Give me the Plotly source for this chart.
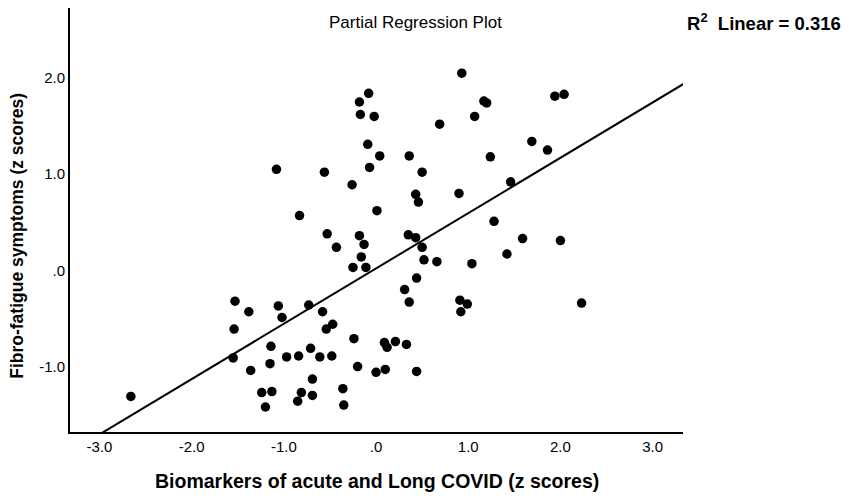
import plotly.graph_objects as go

# partial regression residuals (z scores)
biomarkers_z = [
    -0.08, -0.18, -0.17, -0.02, -0.09, 0.04, -0.07, -1.08, -0.56, -0.26,
    0.01, -0.83, 0.93, 1.17, 1.20, 1.07, 0.69, 1.94, 2.04, 0.36,
    0.50, 0.43, 0.46, 0.90, 1.24, 1.69, 1.86, 1.46, 1.28, -0.53,
    -0.43, -0.18, -0.13, -0.16, -0.25, -0.11, -1.53, -1.38, -1.06, -1.02,
    -0.73, -0.58, -0.47, -0.54, -1.54, -1.55, -1.14, -0.97, -0.84, -0.71,
    -0.61, -0.48, -0.24, -1.15, -1.36, -0.20, 0.09, 0.12, 0.00, 0.10,
    -0.69, -1.24, -1.13, -1.20, -0.81, -0.85, -0.69, -0.36, -0.35, -2.66,
    0.35, 0.43, 0.50, 0.52, 0.66, 0.44, 0.31, 0.36, 1.04, 1.42,
    1.59, 2.00, 2.23, 0.91, 0.99, 0.92, 0.21, 0.33, 0.44,
]
fibro_fatigue_z = [
    1.84, 1.75, 1.62, 1.60, 1.31, 1.19, 1.07, 1.05, 1.02, 0.89,
    0.62, 0.57, 2.05, 1.76, 1.74, 1.60, 1.52, 1.81, 1.83, 1.19,
    1.02, 0.79, 0.71, 0.80, 1.18, 1.34, 1.25, 0.92, 0.51, 0.38,
    0.24, 0.36, 0.27, 0.14, 0.03, 0.03, -0.32, -0.43, -0.37, -0.49,
    -0.36, -0.43, -0.56, -0.61, -0.61, -0.91, -0.79, -0.90, -0.89, -0.81,
    -0.90, -0.89, -0.71, -0.97, -1.04, -1.00, -0.75, -0.80, -1.06, -1.03,
    -1.13, -1.27, -1.26, -1.42, -1.27, -1.36, -1.30, -1.23, -1.40, -1.31,
    0.37, 0.34, 0.24, 0.11, 0.09, -0.08, -0.20, -0.33, 0.07, 0.17,
    0.33, 0.31, -0.34, -0.31, -0.35, -0.43, -0.74, -0.77, -1.05,
]

fit_slope = 0.575
fit_intercept = 0.02
r2_linear = 0.316

x_ticks = [-3, -2, -1, 0, 1, 2, 3]
x_tick_text = ["-3.0", "-2.0", "-1.0", ".0", "1.0", "2.0", "3.0"]
y_ticks = [-1, 0, 1, 2]
y_tick_text = ["-1.0", ".0", "1.0", "2.0"]

x_range = [-3.32, 3.33]
y_range = [-1.68, 2.727]

font_family = "Liberation Sans, Arial, sans-serif"

fig = go.Figure()

fit_x = [-3.5, 3.5]
fit_y = [fit_slope * v + fit_intercept for v in fit_x]
fig.add_trace(go.Scatter(x=fit_x, y=fit_y, mode="lines",
                         line=dict(color="black", width=2), hoverinfo="skip"))

fig.add_trace(go.Scatter(x=biomarkers_z, y=fibro_fatigue_z, mode="markers",
                         marker=dict(color="black", size=9.5)))

# the page body adds an 8px margin, so the figure is 8px smaller each way
fig.update_layout(
    width=842, height=491,
    margin=dict(l=62, r=167, t=0, b=67),
    paper_bgcolor="white", plot_bgcolor="white",
    showlegend=False,
    font=dict(family=font_family, color="black", size=15),
)

fig.update_xaxes(range=x_range, tickvals=x_ticks, ticktext=x_tick_text,
                 showgrid=False, zeroline=False, showline=True,
                 linecolor="black", linewidth=2, ticks="",
                 tickfont=dict(size=15, color="black"))
fig.update_yaxes(range=y_range, tickvals=y_ticks, ticktext=y_tick_text,
                 showgrid=False, zeroline=False, showline=True,
                 linecolor="black", linewidth=2, ticks="",
                 tickfont=dict(size=15, color="black"))

fig.add_annotation(text="Partial Regression Plot", xref="paper", yref="paper",
                   x=0.564, y=0.965, xanchor="center", yanchor="middle",
                   showarrow=False, font=dict(size=17, color="black"))
fig.add_annotation(text="<b>R<sup>2</sup>  Linear = %.3f</b>" % r2_linear,
                   xref="paper", yref="paper", x=1.261, y=0.967,
                   xanchor="right", yanchor="middle", showarrow=False,
                   font=dict(size=18.5, color="black"))
fig.add_annotation(text="<b>Biomarkers of acute and Long COVID (z scores)</b>",
                   xref="paper", yref="paper", x=0.5, y=-0.1156,
                   xanchor="center", yanchor="middle", showarrow=False,
                   font=dict(size=19.5, color="black"))
fig.add_annotation(text="<b>Fibro-fatigue symptoms (z scores)</b>",
                   xref="paper", yref="paper", x=-0.087, y=0.462,
                   xanchor="center", yanchor="middle", textangle=-90,
                   showarrow=False, font=dict(size=17.5, color="black"))

fig.write_html("out.html")
